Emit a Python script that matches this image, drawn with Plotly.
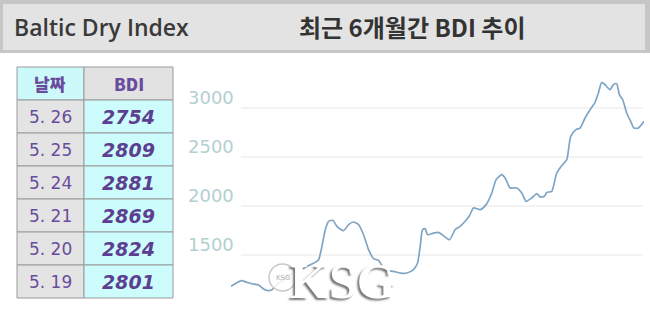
import plotly.graph_objects as go

W, H = 650, 309

# ---------------- data ----------------
table_dates = ["5. 26", "5. 25", "5. 24", "5. 21", "5. 20", "5. 19"]
table_bdi = [2754, 2809, 2881, 2869, 2824, 2801]
table_headers = ["날짜", "BDI"]

# 6-month BDI trend (trading-day index, index value)
days = [0, 3.1, 4.8, 6.3, 8.3, 9.8, 11, 12.3, 13.8, 15.8, 17.8, 19.8, 21.8, 23.8,
        25.3, 26.3, 27.3, 28.3, 29.3, 30.6, 31.8, 33.8, 35.3, 36.8, 38.3, 39.8,
        41.3, 42.8, 44.3, 45.8, 47.3, 48.8, 50.8, 52.8, 54.8, 56, 56.8, 57.5,
        58.3, 59, 60.8, 62.3, 63.8, 65.6, 67.3, 68.8, 70.3, 71.6, 72.8, 74.8,
        76.6, 78.3, 79.6, 81.3, 82.3, 83.8, 85.8, 87.3, 88.6, 90.3, 91.8, 92.8,
        94.1, 94.8, 96.3, 97.8, 99.3, 100.8, 102, 103.6, 104.8, 106.3, 107.8,
        109.3, 110.3, 111.3, 112.3, 113.8, 114.8, 115.8, 116.6, 117.6, 118.8,
        120, 121, 122.3, 124]
bdi = [1180, 1238, 1221, 1207, 1194, 1153, 1136, 1146, 1197, 1248, 1299, 1333,
       1367, 1401, 1425, 1452, 1588, 1758, 1844, 1854, 1793, 1748, 1810, 1837,
       1810, 1707, 1554, 1463, 1446, 1367, 1340, 1333, 1316, 1316, 1350, 1418,
       1588, 1758, 1769, 1707, 1724, 1731, 1697, 1656, 1758, 1793, 1844, 1901,
       1980, 1963, 2014, 2133, 2269, 2320, 2286, 2184, 2184, 2133, 2048, 2082,
       2126, 2092, 2099, 2139, 2150, 2337, 2412, 2473, 2711, 2779, 2796, 2898,
       2983, 3058, 3153, 3262, 3238, 3187, 3238, 3248, 3136, 3085, 2949, 2864,
       2796, 2796, 2864]
y_ticks = [1500, 2000, 2500, 3000]

# ---------------- figure ----------------
fig = go.Figure()

fig.add_trace(go.Scatter(
    x=days, y=bdi, mode="lines",
    line=dict(color="#7fa5c5", width=1.7, shape="spline", smoothing=0.6),
    hoverinfo="skip", showlegend=False,
))


def px_x(v):
    return v / W


def px_y(v):
    return 1 - v / H


shapes = [
    dict(type="rect", xref="paper", yref="paper", x0=0, x1=1, y0=px_y(53), y1=1,
         fillcolor="#c6c6c6", line=dict(width=0), layer="below"),
    dict(type="rect", xref="paper", yref="paper", x0=px_x(3), x1=px_x(645),
         y0=px_y(50), y1=px_y(4), fillcolor="#e3e3e3", line=dict(width=0),
         layer="below"),
]
annotations = []

# ---- table built from the arrays ----
col_edges = [17, 84, 173]
row_top, row_h = 67, 33
line_col = "#9a9a9a"
rows = [table_headers] + [[d, str(v)] for d, v in zip(table_dates, table_bdi)]
for r, row in enumerate(rows):
    y0 = row_top + r * row_h
    for c, txt in enumerate(row):
        if r == 0:
            fill = "#ccfafa" if c == 0 else "#e2e2e2"
        else:
            fill = "#e4e4e4" if c == 0 else "#ccfcfc"
        shapes.append(dict(type="rect", xref="paper", yref="paper",
                           x0=px_x(col_edges[c]), x1=px_x(col_edges[c + 1]),
                           y0=px_y(y0 + row_h), y1=px_y(y0),
                           fillcolor=fill, line=dict(color=line_col, width=1),
                           layer="below"))
        if r == 0:
            font = dict(family="Noto Sans CJK KR, DejaVu Sans", size=17,
                        color="#6a4c9e", weight=900)
        elif c == 0:
            font = dict(family="DejaVu Sans", size=17, color="#6a4c9e")
        else:
            font = dict(family="DejaVu Sans", size=19, color="#5d3f92",
                        weight=700, style="italic")
        annotations.append(dict(text=txt, xref="paper", yref="paper",
                                x=px_x((col_edges[c] + col_edges[c + 1]) / 2),
                                y=px_y(y0 + row_h / 2), xanchor="center",
                                yanchor="middle", showarrow=False, font=font))

for t in y_ticks:
    shapes.append(dict(type="line", xref="paper", yref="y", x0=px_x(241), x1=px_x(643),
                       y0=t, y1=t, line=dict(color="#e8e8e8", width=1), layer="below"))
# watermark wheel
shapes.append(dict(type="circle", xref="paper", yref="paper",
                   x0=px_x(269), x1=px_x(296), y0=px_y(291), y1=px_y(264),
                   fillcolor="rgba(255,255,255,0.85)", line=dict(color="#c8c8c8", width=1.5)))

annotations += [
    dict(text="Baltic Dry Index", xref="paper", yref="paper", x=px_x(12), y=px_y(27),
         xanchor="left", yanchor="middle", showarrow=False,
         font=dict(family="Open Sans", size=23, color="#3a3a3a", weight=600)),
    dict(text="최근 6개월간 BDI 추이", xref="paper", yref="paper", x=px_x(412), y=px_y(27),
         xanchor="center", yanchor="middle", showarrow=False,
         font=dict(family="Noto Sans CJK KR", size=24, color="#333333", weight=700)),
]
for t in y_ticks:
    annotations.append(dict(text=str(t), xref="paper", yref="y", x=px_x(236), y=t,
                            xanchor="right", yanchor="middle", yshift=11, showarrow=False,
                            font=dict(family="DejaVu Sans", size=18, color="#b3d0d0")))
annotations.append(dict(text="KSG", xref="paper", yref="paper", x=px_x(343), y=px_y(281),
                        xanchor="center", yanchor="middle", showarrow=False,
                        font=dict(family="Liberation Serif", size=50, color="#ffffff",
                                  weight=700, shadow="-2px 2px 2px #777")))
annotations.append(dict(text="KSG", xref="paper", yref="paper", x=px_x(282.5), y=px_y(277.5),
                        xanchor="center", yanchor="middle", showarrow=False,
                        font=dict(family="DejaVu Sans", size=7, color="#b0b0b0")))

fig.update_layout(
    width=W, height=H, margin=dict(l=0, r=0, t=0, b=0),
    paper_bgcolor="#ffffff", plot_bgcolor="rgba(0,0,0,0)",
    xaxis=dict(domain=[px_x(231), px_x(644)], range=[0, 124], visible=False),
    yaxis=dict(domain=[0, 249 / H], range=[949, 3490], visible=False),
    shapes=shapes, annotations=annotations, showlegend=False,
)

fig.write_html("out.html", config={"displayModeBar": False})
